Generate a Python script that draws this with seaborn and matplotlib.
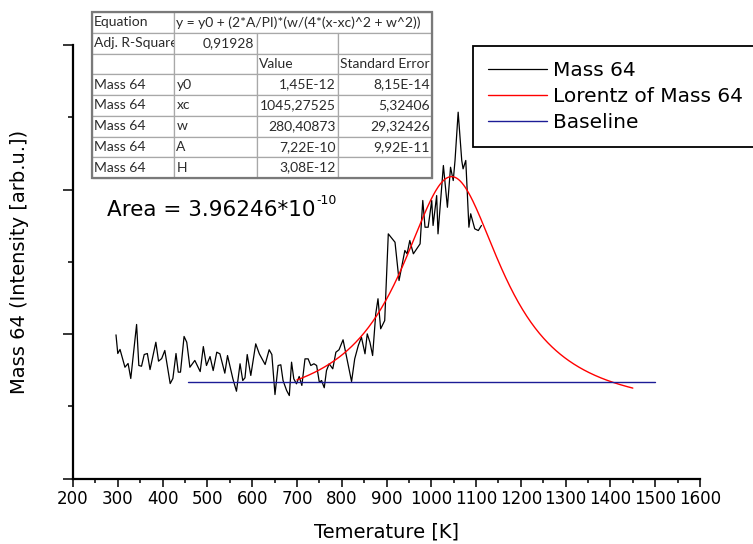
import numpy as np
import pandas as pd
import matplotlib
matplotlib.use("Agg")
import matplotlib.pyplot as plt
import seaborn as sns
from matplotlib.ticker import MultipleLocator, NullFormatter
from matplotlib.patches import Rectangle

# ---------------- data (intensity in units of 1e-12 arb.u.) ----------------
temperature = [296, 300, 305, 316, 323, 329, 342, 347, 353, 359,
               366, 372, 385, 391, 398, 405, 417, 423, 430, 435,
               440, 448, 454, 461, 472, 484, 491, 498, 506, 513,
               521, 528, 539, 545, 557, 565, 573, 579, 584, 589,
               597, 608, 616, 629, 638, 644, 651, 658, 664, 669,
               677, 683, 688, 693, 699, 705, 711, 718, 725, 731,
               738, 744, 750, 755, 761, 766, 772, 780, 787, 794,
               803, 811, 822, 829, 837, 844, 852, 857, 863, 869,
               876, 881, 887, 896, 904, 919, 928, 941, 946, 952,
               960, 975, 981, 986, 993, 1001, 1004, 1012, 1015, 1027,
               1036, 1043, 1049, 1053, 1060, 1068, 1071, 1077, 1084, 1088,
               1097, 1105, 1112]
intensity = [1.994, 1.865, 1.893, 1.770, 1.796, 1.692, 2.066, 1.782, 1.777, 1.858,
             1.865, 1.754, 1.943, 1.812, 1.830, 1.886, 1.657, 1.692, 1.865, 1.736,
             1.736, 1.983, 1.943, 1.770, 1.817, 1.740, 1.913, 1.782, 1.844, 1.747,
             1.874, 1.863, 1.729, 1.851, 1.690, 1.604, 1.794, 1.678, 1.697, 1.858,
             1.713, 1.932, 1.863, 1.789, 1.891, 1.858, 1.581, 1.782, 1.787, 1.678,
             1.609, 1.574, 1.805, 1.690, 1.655, 1.706, 1.644, 1.828, 1.828, 1.782,
             1.794, 1.782, 1.666, 1.678, 1.628, 1.747, 1.794, 1.759, 1.874, 1.891,
             1.960, 1.839, 1.671, 1.828, 1.920, 1.978, 1.863, 2.001, 1.943, 1.851,
             2.140, 2.244, 2.036, 2.093, 2.693, 2.635, 2.370, 2.578, 2.555, 2.647,
             2.555, 2.624, 2.924, 2.739, 2.739, 2.924, 2.751, 2.958, 2.693, 3.166,
             2.877, 3.154, 3.062, 3.201, 3.535, 3.201, 3.143, 3.201, 2.739, 2.832,
             2.728, 2.716, 2.751]

# Lorentz fit parameters (from the table; y0 and A in units of 1e-12)
fit_y0 = 1.45
fit_xc = 1045.27525
fit_w = 280.40873
fit_A = 722.0
fit_range = [700, 1450]

baseline_x = [457, 1500]
baseline_y = [1.666, 1.666]

table_rows = [
    ["Equation", "y = y0 + (2*A/PI)*(w/(4*(x-xc)^2 + w^2))", "", ""],
    ["Adj. R-Square", "0,91928", "", ""],
    ["", "", "Value", "Standard Error"],
    ["Mass 64", "y0", "1,45E-12", "8,15E-14"],
    ["Mass 64", "xc", "1045,27525", "5,32406"],
    ["Mass 64", "w", "280,40873", "29,32426"],
    ["Mass 64", "A", "7,22E-10", "9,92E-11"],
    ["Mass 64", "H", "3,08E-12", ""],
]

legend_labels = ["Mass 64", "Lorentz of Mass 64", "Baseline"]

# ---------------- style ----------------
sns.set_theme(style="ticks")
plt.rcParams["font.family"] = ["DejaVu Sans"]
plt.rcParams["axes.edgecolor"] = "black"
plt.rcParams["xtick.color"] = "black"
plt.rcParams["ytick.color"] = "black"
plt.rcParams["text.color"] = "black"
plt.rcParams["axes.labelcolor"] = "black"

W, H = 753, 544
fig = plt.figure(figsize=(W / 100, H / 100), dpi=100)
ax = fig.add_axes([73 / W, 1 - 478.5 / H, (700 - 73) / W, (478.5 - 45) / H])

df_data = pd.DataFrame({"T": temperature, "I": intensity})
fit_x = np.linspace(fit_range[0], fit_range[1], 400)
fit_y = fit_y0 + (2 * fit_A / np.pi) * (fit_w / (4 * (fit_x - fit_xc) ** 2 + fit_w ** 2))
df_fit = pd.DataFrame({"T": fit_x, "I": fit_y})
df_base = pd.DataFrame({"T": baseline_x, "I": baseline_y})

sns.lineplot(data=df_data, x="T", y="I", ax=ax, color="black", lw=0.9,
             sort=False, estimator=None, label=legend_labels[0])
sns.lineplot(data=df_fit, x="T", y="I", ax=ax, color="#ff0000", lw=1.0,
             sort=False, estimator=None, label=legend_labels[1])
sns.lineplot(data=df_base, x="T", y="I", ax=ax, color="#1c1c96", lw=1.0,
             sort=False, estimator=None, label=legend_labels[2])

ax.set_xlim(200, 1600)
ax.set_ylim(1, 4)
ax.xaxis.set_major_locator(MultipleLocator(100))
ax.xaxis.set_minor_locator(MultipleLocator(50))
ax.yaxis.set_major_locator(MultipleLocator(1))
ax.yaxis.set_minor_locator(MultipleLocator(0.5))
ax.yaxis.set_major_formatter(NullFormatter())
ax.tick_params(axis="x", which="major", direction="out", length=5.5, width=1.1,
               labelsize=12, pad=3)
ax.tick_params(axis="x", which="minor", direction="out", length=3, width=1.1)
ax.tick_params(axis="y", which="major", direction="out", length=7.5, width=1.1)
ax.tick_params(axis="y", which="minor", direction="out", length=3.5, width=1.1)
for s in ["top", "right"]:
    ax.spines[s].set_visible(False)
for s in ["left", "bottom"]:
    ax.spines[s].set_linewidth(1.6)

ax.set_xlabel("Temerature [K]", fontsize=14, labelpad=10.5)
ax.set_ylabel("Mass 64 (Intensity [arb.u.])", fontsize=14, labelpad=21)

leg = ax.legend(loc="upper left", bbox_to_anchor=(473 / W, 1 - 46 / H, 0.45, 0),
                bbox_transform=fig.transFigure, mode="expand", borderaxespad=0,
                frameon=True, fancybox=False, edgecolor="black", framealpha=1,
                fontsize=14.5, handlelength=2.9, handletextpad=0.3,
                borderpad=0.75, labelspacing=0.34)
leg.get_frame().set_linewidth(1.3)

# Area annotation
t_area = fig.text(107 / W, 1 - 216 / H, "Area = 3.96246*10", fontsize=15.5,
                  ha="left", va="baseline")
ax.annotate("-10", xy=(1, 1), xycoords=t_area, xytext=(0.5, 4), textcoords="offset points",
            ha="left", va="top", fontsize=9)

# fit result table
tax = fig.add_axes([92 / W, 1 - 178 / H, 340 / W, 166 / H])
tax.axis("off")
col_w = [82.6, 82.4, 81.6, 94.4]
tab = tax.table(cellText=table_rows, colWidths=[c / sum(col_w) for c in col_w],
                bbox=[0, 0, 1, 1], cellLoc="left")
tab.auto_set_font_size(False)
tab.set_fontsize(10)
right_cells = {(1, 1)} | {(r, c) for r in range(3, 8) for c in (2, 3)}
for (r, c), cell in tab.get_celld().items():
    cell.set_edgecolor("#a8a8a8")
    cell.set_linewidth(0.9)
    cell.PAD = 0.025
    cell.get_text().set_fontfamily(["Lato", "DejaVu Sans"])
    cell.get_text().set_color("#2a2a2a")
    if (r, c) in right_cells:
        cell.get_text().set_ha("right")
    if r == 0:
        cell.visible_edges = {1: "BTL", 2: "BT", 3: "BTR"}.get(c, "closed")
        if c in (2, 3):
            cell.set_facecolor("none")
        if c == 1:
            cell.set_zorder(5)
tax.add_patch(Rectangle((0, 0), 1, 1, transform=tax.transAxes, fill=False,
                        edgecolor="#7a7a7a", lw=1.6, zorder=10, clip_on=False))

fig.savefig("out.png", dpi=100)
